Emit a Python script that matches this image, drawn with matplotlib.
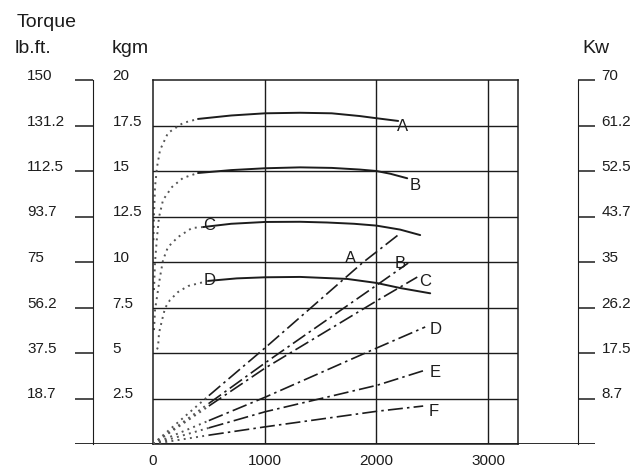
import numpy as np
import matplotlib.pyplot as plt
import matplotlib.ticker as ticker

plt.rcParams["font.family"] = ["Liberation Sans", "DejaVu Sans"]
INK = "#1c1c1c"

# torque curves, kgm vs rpm (solid part)
tq_rpm_A = [403, 700, 1004, 1317, 1600, 1850, 2000, 2195]
tq_kgm_A = [17.86, 18.05, 18.17, 18.20, 18.17, 18.02, 17.90, 17.75]
tq_rpm_B = [403, 700, 1004, 1317, 1600, 1850, 2000, 2124, 2276]
tq_kgm_B = [14.89, 15.05, 15.15, 15.20, 15.17, 15.08, 15.00, 14.85, 14.60]
tq_rpm_C = [448, 700, 1004, 1317, 1559, 1800, 2000, 2213, 2392]
tq_kgm_C = [11.92, 12.10, 12.20, 12.21, 12.17, 12.10, 12.00, 11.78, 11.48]
tq_rpm_D = [493, 750, 1004, 1317, 1738, 2000, 2213, 2482]
tq_kgm_D = [8.96, 9.10, 9.16, 9.18, 9.07, 8.85, 8.57, 8.28]

# torque curves, low-speed dotted part
lo_rpm_A = [4, 9, 18, 36, 63, 134, 269, 403]
lo_kgm_A = [11.2, 12.6, 14.12, 15.22, 16.15, 17.09, 17.64, 17.86]
lo_rpm_B = [9, 18, 36, 54, 90, 170, 269, 403]
lo_kgm_B = [8.46, 10.0, 11.37, 12.47, 13.41, 14.12, 14.62, 14.89]
lo_rpm_C = [9, 18, 45, 63, 90, 134, 224, 349, 448]
lo_kgm_C = [6.26, 7.36, 8.46, 9.18, 10.11, 10.82, 11.37, 11.87, 11.92]
lo_rpm_D = [36, 45, 54, 81, 108, 152, 224, 314, 493]
lo_kgm_D = [5.2, 5.33, 6.10, 6.81, 7.47, 7.91, 8.35, 8.68, 8.96]

# power lines, kW vs rpm
pw_rpm_A = [0, 500, 1004, 1873, 2195]
pw_kw_A = [0, 9.3, 18.5, 34.8, 40.2]
pw_rpm_B = [0, 500, 1004, 2000, 2285]
pw_kw_B = [0, 7.8, 15.6, 30.5, 34.8]
pw_rpm_C = [0, 500, 1004, 2016, 2366]
pw_kw_C = [0, 7.3, 14.6, 27.7, 32.1]
pw_rpm_D = [0, 500, 1004, 2007, 2437]
pw_kw_D = [0, 4.5, 9.0, 18.5, 22.5]
pw_rpm_E = [0, 500, 1004, 2007, 2437]
pw_kw_E = [0, 3.1, 6.2, 11.3, 14.2]
pw_rpm_F = [0, 500, 1004, 2007, 2419]
pw_kw_F = [0, 1.7, 3.3, 6.3, 7.3]

# label positions
tq_lbl = {"A": (2236, 17.47), "B": (2348, 14.20), "C": (506, 12.0), "D": (511, 9.01)}
pw_lbl = {"A": (1765, 35.7), "B": (2213, 34.7), "C": (2437, 31.3),
          "D": (2527, 22.0), "E": (2527, 13.75), "F": (2509, 6.25)}

kgm_ticks = [2.5, 5, 7.5, 10, 12.5, 15, 17.5, 20]
kgm_labels = ["2.5", "5", "7.5", "10", "12.5", "15", "17.5", "20"]
lbft_ticks = [18.75, 37.5, 56.25, 75, 93.75, 112.5, 131.25, 150]
lbft_labels = ["18.7", "37.5", "56.2", "75", "93.7", "112.5", "131.2", "150"]
kw_ticks = [8.75, 17.5, 26.25, 35, 43.75, 52.5, 61.25, 70]
kw_labels = ["8.7", "17.5", "26.2", "35", "43.7", "52.5", "61.2", "70"]
rpm_ticks = [0, 1000, 2000, 3000]

W, H = 644, 470


def px_rect(x0, y0, x1, y1):
    return [x0 / W, 1 - y1 / H, (x1 - x0) / W, (y1 - y0) / H]


fig = plt.figure(figsize=(W / 100, H / 100), dpi=100)

# long base line under everything
ax_base = fig.add_axes(px_rect(75, 80, 595, 444))
ax_base.set_axis_off()
ax_base.axhline(0, color=INK, lw=1.3)
ax_base.set_ylim(0, 1)
ax_base.set_xlim(0, 1)

# lb.ft scale
ax_lb = fig.add_axes(px_rect(93, 80, 94, 444))
ax_lb.patch.set_visible(False)
for s in ["top", "right", "bottom"]:
    ax_lb.spines[s].set_visible(False)
ax_lb.spines["left"].set_color(INK)
ax_lb.set_xticks([])
ax_lb.set_ylim(0, 150)
ax_lb.set_yticks(lbft_ticks)
ax_lb.set_yticklabels(lbft_labels, ha="left", va="baseline")
ax_lb.tick_params(axis="y", length=13, width=1.1, pad=34.5, labelsize=11,
                  color=INK, labelcolor=INK)

# Kw scale
ax_kw = fig.add_axes(px_rect(577, 80, 578, 444))
ax_kw.patch.set_visible(False)
for s in ["top", "left", "bottom"]:
    ax_kw.spines[s].set_visible(False)
ax_kw.spines["right"].set_color(INK)
ax_kw.set_xticks([])
ax_kw.set_ylim(0, 70)
ax_kw.yaxis.tick_right()
ax_kw.set_yticks(kw_ticks)
ax_kw.set_yticklabels(kw_labels, va="baseline")
ax_kw.tick_params(axis="y", length=12, width=1.1, pad=5, labelsize=11,
                  color=INK, labelcolor=INK)

# main grid (kgm / rpm)
ax = fig.add_axes(px_rect(153, 80, 518, 444))
ax.patch.set_visible(False)
ax.set_xlim(0, 3268)
ax.set_ylim(0, 20)
for s in ax.spines.values():
    s.set_color(INK)
    s.set_linewidth(1.1)
ax.set_xticks(rpm_ticks)
ax.set_yticks(kgm_ticks)
ax.set_yticklabels(kgm_labels, ha="left", va="baseline")
ax.tick_params(axis="y", length=0, pad=29, labelsize=11, labelcolor=INK)
ax.tick_params(axis="x", length=0, pad=7, labelsize=11, labelcolor=INK)
for x in rpm_ticks[1:]:
    ax.axvline(x, color=INK, lw=1.0)
for y in kgm_ticks[:-1]:
    ax.axhline(y, color=INK, lw=1.0)

dot = (0, (1, 2.2))
dashdot = (0, (9, 2.5, 1.5, 2.5))

for rs, ks, rl, kl in [(tq_rpm_A, tq_kgm_A, lo_rpm_A, lo_kgm_A),
                       (tq_rpm_B, tq_kgm_B, lo_rpm_B, lo_kgm_B),
                       (tq_rpm_C, tq_kgm_C, lo_rpm_C, lo_kgm_C),
                       (tq_rpm_D, tq_kgm_D, lo_rpm_D, lo_kgm_D)]:
    ax.plot(rs, ks, color=INK, lw=1.4, solid_capstyle="round")
    ax.plot(rl, kl, color="#555555", lw=1.4, ls=dot)

for k, (x, y) in tq_lbl.items():
    ax.text(x, y, k, ha="center", va="center", fontsize=12, color=INK)

# power lines on a hidden twin in kW
axp = ax.twinx()
axp.set_ylim(0, 70)
axp.set_axis_off()
for rs, ws in [(pw_rpm_A, pw_kw_A), (pw_rpm_B, pw_kw_B), (pw_rpm_C, pw_kw_C),
               (pw_rpm_D, pw_kw_D), (pw_rpm_E, pw_kw_E), (pw_rpm_F, pw_kw_F)]:
    axp.plot(rs[:2], ws[:2], color="#555555", lw=1.4, ls=dot)
    axp.plot(rs[1:], ws[1:], color=INK, lw=1.2, ls=dashdot)

for k, (x, y) in pw_lbl.items():
    axp.text(x, y, k, ha="center", va="center", fontsize=12, color=INK)

# headings
fig.text(17 / W, 1 - 27 / H, "Torque", fontsize=14, color=INK, va="baseline")
fig.text(15 / W, 1 - 53 / H, "lb.ft.", fontsize=14, color=INK, va="baseline")
fig.text(112 / W, 1 - 53 / H, "kgm", fontsize=14, color=INK, va="baseline")
fig.text(582 / W, 1 - 53 / H, "Kw", fontsize=14, color=INK, va="baseline")

fig.savefig("out.png", dpi=100, facecolor="white")
